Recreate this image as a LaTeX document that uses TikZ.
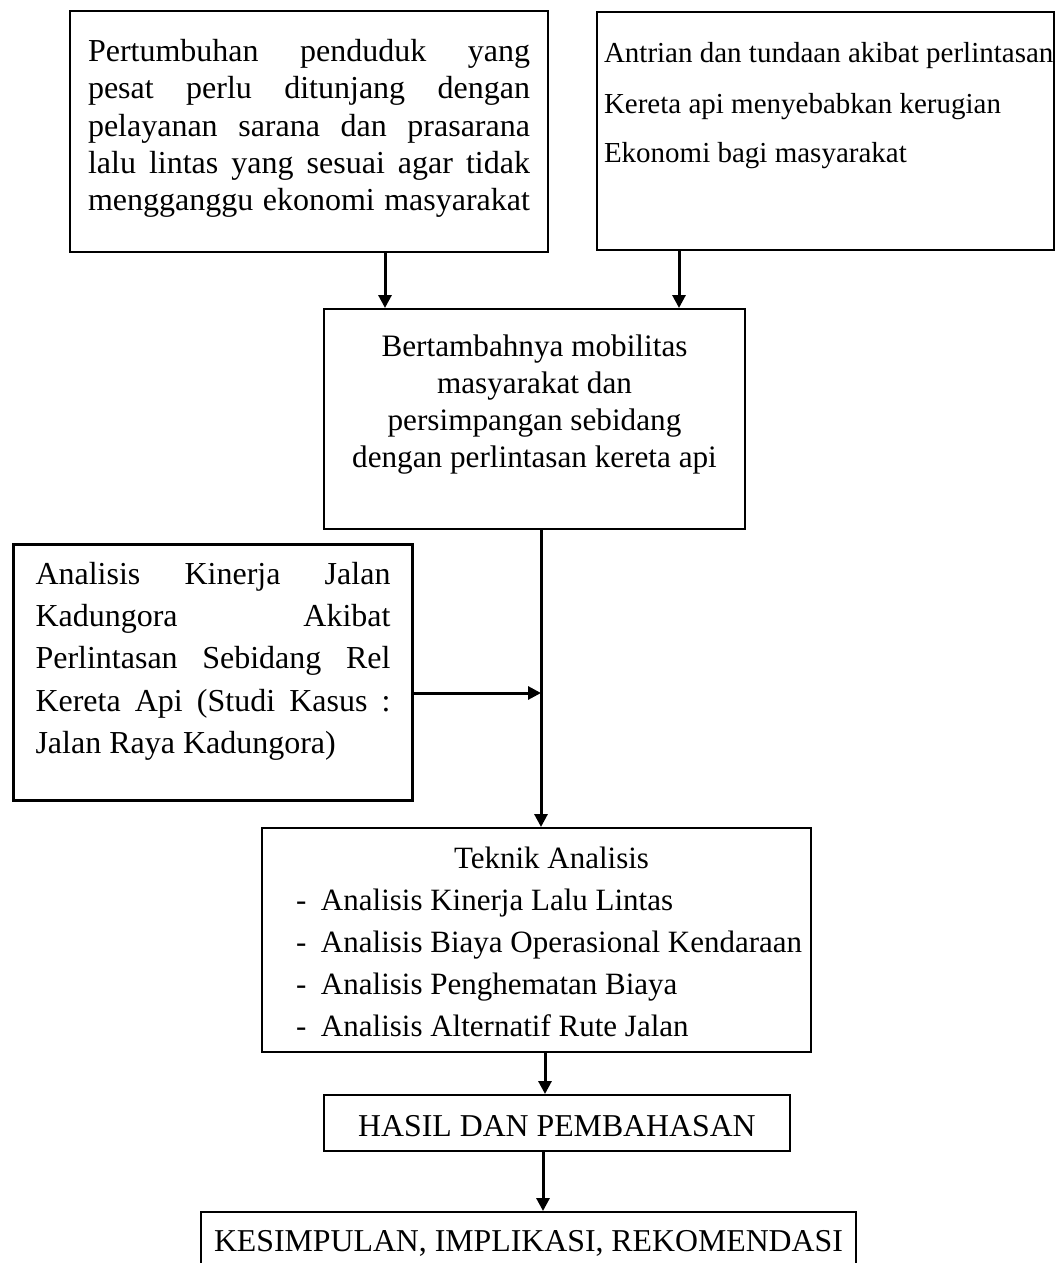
\documentclass[tikz,border=0pt]{standalone}
\usepackage{fontspec}
\setmainfont{Liberation Serif}
\usetikzlibrary{arrows.meta}
\tikzset{
    box/.style={
        rectangle, draw=black, line width=1pt,
        inner ysep=0pt, anchor=north west, fill=white, align=justify
    },
    wire/.style={draw=black, line width=1.5pt, -{Triangle[length=6.5pt,width=6.5pt]}}
}
\newcommand{\fullline}[2]{\makebox[#1][s]{#2}}

\begin{document}
\begin{tikzpicture}[x=0.5pt, y=-0.5pt]

\clip (0,0) rectangle (1062,1263);

% Top row
\node[box, inner xsep=9pt, text width=221pt,
      text height=25.5pt, text depth=95pt,
      font=\fontsize{16pt}{18.5pt}\selectfont] (pop) at (69,10) {%
    \fullline{221pt}{Pertumbuhan penduduk yang}\\
    \fullline{221pt}{pesat perlu ditunjang dengan}\\
    \fullline{221pt}{pelayanan sarana dan prasarana}\\
    \fullline{221pt}{lalu lintas yang sesuai agar tidak}\\
    \fullline{221pt}{mengganggu ekonomi masyarakat}};

\node[box, inner xsep=3.5pt, text width=221.5pt,
      text height=25.5pt, text depth=93.5pt,
      font=\fontsize{14.5pt}{25pt}\selectfont] (queue) at (596,11) {%
    \mbox{Antrian dan tundaan akibat perlintasan}\\
    Kereta api menyebabkan kerugian\\
    Ekonomi bagi masyarakat};

% Middle
\node[box, inner xsep=5pt, text width=200.5pt,
      text height=23.5pt, text depth=86.5pt,
      font=\fontsize{15.6pt}{18.6pt}\selectfont] (mob) at (323,308) {%
    \centering
    Bertambahnya mobilitas\\
    masyarakat dan\\
    persimpangan sebidang\\
    dengan perlintasan kereta api\par};

\node[box, line width=1.5pt, inner xsep=11pt, text width=177.5pt,
      text height=20pt, text depth=108pt,
      font=\fontsize{16pt}{21.1pt}\selectfont] (study) at (12,543) {%
    \fullline{177.5pt}{Analisis Kinerja Jalan}\\
    \fullline{177.5pt}{Kadungora Akibat}\\
    \fullline{177.5pt}{Perlintasan Sebidang Rel}\\
    \fullline{177.5pt}{Kereta Api (Studi Kasus :}\\
    Jalan Raya Kadungora)};

\node[box, inner xsep=17pt, text width=240.5pt,
      text height=20pt, text depth=92pt,
      font=\fontsize{15.5pt}{21.1pt}\selectfont] (tech) at (261,827) {%
    \hspace*{79pt}Teknik Analisis\\
    \makebox[12.5pt][l]{-}Analisis Kinerja Lalu Lintas\\
    \mbox{\makebox[12.5pt][l]{-}Analisis Biaya Operasional Kendaraan}\\
    \makebox[12.5pt][l]{-}Analisis Penghematan Biaya\\
    \makebox[12.5pt][l]{-}Analisis Alternatif Rute Jalan};

% Bottom
\node[box, inner xsep=0pt, text width=233pt,
      text height=20.5pt, text depth=7.5pt,
      font=\fontsize{15.9pt}{19pt}\selectfont] (res) at (323,1094) {%
    \centering HASIL DAN PEMBAHASAN\par};

\node[box, inner xsep=0pt, text width=327.5pt,
      text height=19.5pt, text depth=20pt,
      font=\fontsize{15.9pt}{19pt}\selectfont] (concl) at (200,1211) {%
    \centering \mbox{KESIMPULAN, IMPLIKASI, REKOMENDASI}\par};

% Connectors
\coordinate (lane1) at (385,0);
\coordinate (lane2) at (679,0);
\coordinate (trunk) at (541,0);
\coordinate (lane5) at (545,0);
\coordinate (lane6) at (543,0);
\coordinate (tap) at (0,693);

\draw[wire] (pop.south -| lane1) -- (mob.north -| lane1);
\draw[wire] (queue.south -| lane2) -- (mob.north -| lane2);
\draw[wire] (mob.south -| trunk) -- (tech.north -| trunk);
\draw[wire] (study.east |- tap) -- (trunk |- tap);
\draw[wire] (tech.south -| lane5) -- (res.north -| lane5);
\draw[wire] (res.south -| lane6) -- (concl.north -| lane6);

\end{tikzpicture}
\end{document}
